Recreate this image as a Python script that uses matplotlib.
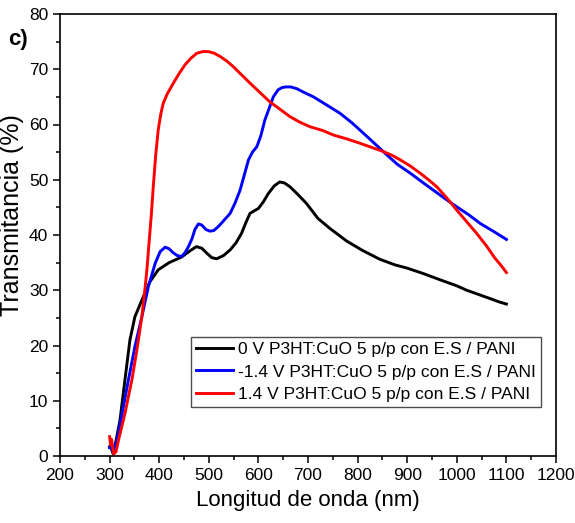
import matplotlib
matplotlib.use("Agg")
import matplotlib.pyplot as plt
from matplotlib.ticker import MultipleLocator

plt.rcParams['font.family'] = ['Liberation Sans', 'DejaVu Sans']

# datos
# 0 V
bx = [300, 303, 307, 313, 321, 331, 341, 351, 365, 381, 398, 420, 445, 460, 475, 486, 496, 506, 516, 530,
      543, 555, 566, 575, 583, 592, 600, 610, 620, 632, 643, 653, 664, 680, 697, 720, 744, 778, 810, 845,
      875, 900, 930, 966, 1000, 1020, 1045, 1067, 1085, 1100]
by = [1.7, 1.5, 0.4, 2.8, 6.5, 13.8, 21.0, 25.2, 28.2, 31.5, 33.7, 35.0, 36.0, 37.0, 37.9, 37.6, 36.7, 35.9, 35.7, 36.3,
      37.3, 38.6, 40.3, 42.3, 43.9, 44.4, 44.8, 46.0, 47.5, 48.9, 49.6, 49.4, 48.7, 47.3, 45.7, 43.0, 41.2, 38.9, 37.2, 35.6,
      34.6, 34.0, 33.1, 31.9, 30.8, 30.0, 29.2, 28.5, 27.9, 27.5]

# -1.4 V
ux = [300, 304, 308, 315, 324, 338, 351, 365, 378, 392, 402, 412, 420, 428, 436, 445, 452, 459, 466, 472,
      479, 486, 494, 502, 510, 520, 532, 543, 553, 563, 572, 580, 588, 597, 605, 613, 622, 630, 640, 648,
      656, 665, 677, 690, 711, 740, 765, 790, 812, 835, 859, 880, 906, 930, 953, 976, 1000, 1025, 1047, 1075,
      1100]
uy = [1.5, 1.4, 0.6, 3.0, 7.1, 13.8, 19.8, 25.2, 30.6, 34.9, 37.0, 37.8, 37.5, 36.8, 36.3, 36.1, 36.8, 37.9, 39.3, 41.0,
      42.0, 41.8, 41.0, 40.7, 40.8, 41.6, 42.8, 43.9, 45.8, 48.1, 51.0, 53.6, 55.0, 56.0, 58.0, 60.8, 63.0, 65.0, 66.3, 66.7,
      66.8, 66.8, 66.5, 65.9, 65.0, 63.4, 62.0, 60.2, 58.4, 56.5, 54.5, 52.8, 51.2, 49.6, 48.1, 46.6, 45.1, 43.6, 42.1, 40.6,
      39.2]

# 1.4 V
rx = [300, 302, 304, 308, 313, 318, 325, 331, 338, 345, 355, 365, 371, 375, 379, 384, 388, 393, 398, 403,
      408, 416, 428, 440, 452, 464, 476, 488, 499, 511, 523, 536, 549, 566, 583, 603, 623, 643, 664, 684,
      704, 730, 751, 778, 805, 830, 852, 870, 886, 906, 926, 943, 960, 980, 1000, 1020, 1040, 1060, 1077, 1090,
      1100]
ry = [3.5, 2.0, 3.0, 0.3, 0.8, 2.9, 5.5, 7.7, 10.8, 13.8, 19.2, 25.2, 30.0, 33.5, 38.0, 43.5, 48.7, 54.5, 59.0, 61.8,
      63.8, 65.5, 67.4, 69.2, 70.8, 72.0, 72.9, 73.2, 73.2, 72.9, 72.3, 71.5, 70.5, 69.0, 67.5, 65.8, 64.1, 62.8, 61.4, 60.4,
      59.6, 58.9, 58.1, 57.4, 56.6, 55.8, 55.1, 54.4, 53.6, 52.5, 51.2, 50.0, 48.7, 46.7, 44.5, 42.4, 40.3, 38.0, 35.8, 34.4,
      33.2]

etiquetas = ["0 V P3HT:CuO 5 p/p con E.S / PANI",
             "-1.4 V P3HT:CuO 5 p/p con E.S / PANI",
             "1.4 V P3HT:CuO 5 p/p con E.S / PANI"]

fig = plt.figure(figsize=(5.75, 5.23), dpi=100)
ax = fig.add_axes([60 / 575, 1 - 456 / 523, 496 / 575, 442 / 523])

ax.plot(bx, by, color="black", lw=2.1, label=etiquetas[0])
ax.plot(ux, uy, color="blue", lw=2.1, label=etiquetas[1])
ax.plot(rx, ry, color="red", lw=2.1, label=etiquetas[2])

ax.set_xlim(200, 1200)
ax.set_ylim(0, 80)
ax.xaxis.set_major_locator(MultipleLocator(100))
ax.xaxis.set_minor_locator(MultipleLocator(50))
ax.yaxis.set_major_locator(MultipleLocator(10))
ax.yaxis.set_minor_locator(MultipleLocator(5))
ax.tick_params(which='both', direction='out', top=False, right=False, width=1.1)
ax.tick_params(which='major', length=5, labelsize=12.5)
ax.tick_params(which='minor', length=3)
for s in ax.spines.values():
    s.set_linewidth(1.2)

ax.set_xlabel("Longitud de onda (nm)", fontsize=16, labelpad=5)
ax.set_ylabel("Transmitancia (%)", fontsize=18)
ax.yaxis.set_label_coords(-0.073, 0.545)

leg = ax.legend(loc='upper right', bbox_to_anchor=(0.970, 0.269), borderaxespad=0,
                fontsize=12.5, fancybox=False, framealpha=1, edgecolor='0.3',
                handlelength=2.1, handletextpad=0.3, borderpad=0.3, labelspacing=0.4)
leg.get_frame().set_linewidth(1.0)

fig.text(8 / 575, 1 - 39 / 523, "c)", fontsize=16, fontweight='bold', va='center')

fig.savefig("out.png", dpi=100)
